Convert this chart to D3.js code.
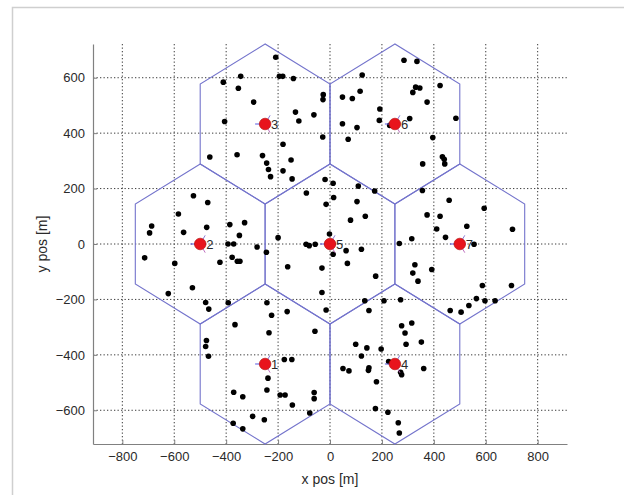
<!DOCTYPE html>
<html>
<head>
<meta charset="utf-8">
<script src="https://cdnjs.cloudflare.com/ajax/libs/d3/7.8.5/d3.min.js"></script>
<style>
  body { margin: 0; background: #fff; }
  svg { display: block; }
</style>
</head>
<body>
<div id="chart"></div>
<script>
// base station ids and positions [m]
var cellIds = [1, 2, 3, 4, 5, 6, 7];
var cellX = [-250, -500, -250, 250, 0, 250, 500];
var cellY = [-433, 0, 433, -433, 0, 433, 0];
var cellRadius = 288.7;

var xTicks = [-800, -600, -400, -200, 0, 200, 400, 600, 800];
var yTicks = [-600, -400, -200, 0, 200, 400, 600];

// user positions per cell [x, y]
var users1 = [[-243,-212],[-225,-257],[-366,-291],[-235,-320],[-165,-244],[-58,-315],[-476,-348],[-479,-370],[-468,-405],[-176,-417],[-147,-417],[-239,-484],[-371,-535],[-336,-551],[-243,-527],[-192,-545],[-173,-545],[-145,-581],[-61,-536],[-61,-558],[-78,-610],[-298,-622],[-253,-634],[-373,-647],[-336,-667]];
var users2 = [[-526,174],[-471,150],[-584,108],[-687,65],[-695,40],[-564,42],[-475,60],[-386,70],[-329,77],[-349,31],[-393,0],[-371,0],[-281,-11],[-714,-50],[-598,-70],[-424,-66],[-377,-48],[-357,-62],[-347,-62],[-623,-179],[-530,-158],[-479,-211],[-467,-235],[-392,-212]];
var users3 = [[-209,674],[-195,605],[-182,605],[-141,597],[-344,605],[-411,584],[-353,562],[-294,512],[-133,476],[-120,444],[-62,466],[-26,539],[-27,521],[-406,442],[-28,386],[-181,360],[-463,314],[-358,322],[-260,319],[-244,292],[-237,269],[-229,243],[-150,303],[-181,264],[-146,235]];
var users4 = [[134,-205],[150,-240],[208,-205],[272,-201],[315,-285],[276,-295],[289,-321],[293,-362],[352,-354],[99,-362],[142,-375],[121,-404],[197,-379],[226,-424],[272,-463],[276,-472],[361,-449],[50,-449],[73,-458],[150,-447],[148,-456],[179,-497],[175,-594],[223,-607],[263,-645],[267,-682]];
var users5 = [[-19,233],[12,219],[109,209],[172,191],[-91,184],[14,168],[-15,143],[104,153],[79,86],[136,100],[-200,23],[-92,-1],[-80,-6],[-57,-1],[-2,36],[12,-37],[62,-24],[121,-19],[67,-70],[-163,-82],[-31,-87],[176,-116],[-31,-175],[-15,-238],[-245,-30]];
var users6 = [[285,663],[335,659],[124,610],[330,566],[346,563],[424,572],[319,547],[116,551],[48,530],[86,525],[374,512],[192,487],[485,454],[190,446],[307,453],[230,428],[48,434],[104,420],[70,378],[396,384],[433,315],[440,306],[442,289],[357,289]];
var users7 = [[356,193],[459,158],[374,105],[424,100],[411,54],[594,129],[527,64],[445,24],[703,53],[315,19],[267,2],[555,-1],[327,-75],[319,-105],[339,-134],[392,-92],[587,-150],[699,-150],[564,-197],[597,-205],[636,-205],[535,-222],[463,-240],[505,-246]];

var W = 624, H = 495;
var LEFT = 93, RIGHT = 567, TOP = 44, BOTTOM = 444;
var HEX_COLOR = '#7474cc';
var GRID_COLOR = '#3a3a3a';
var TEXT_COLOR = '#2a2a2a';
var FONT = 'Arimo, "Liberation Sans", Arial, sans-serif';

var svg = d3.select('#chart').append('svg')
  .attr('width', W)
  .attr('height', H)
  .style('font-family', FONT);

// figure frame
svg.append('path')
  .attr('d', 'M12.5,495 L12.5,7.5 L624,7.5')
  .attr('fill', 'none')
  .attr('stroke', '#cfcfcf')
  .attr('stroke-width', 1.5);

var x = d3.scaleLinear().domain([-913, 913]).range([LEFT, RIGHT]);
var y = d3.scaleLinear().domain([-721.7, 721.7]).range([BOTTOM, TOP]);

// grid
svg.selectAll('.gx').data(xTicks).enter().append('line')
  .attr('x1', function(d) { return x(d); })
  .attr('x2', function(d) { return x(d); })
  .attr('y1', TOP)
  .attr('y2', BOTTOM)
  .attr('stroke', GRID_COLOR)
  .attr('stroke-width', 1)
  .attr('stroke-dasharray', '1.3,2.2');

svg.selectAll('.gy').data(yTicks).enter().append('line')
  .attr('x1', LEFT)
  .attr('x2', RIGHT)
  .attr('y1', function(d) { return y(d); })
  .attr('y2', function(d) { return y(d); })
  .attr('stroke', GRID_COLOR)
  .attr('stroke-width', 1)
  .attr('stroke-dasharray', '1.3,2.2');

// axes
var xAxis = d3.axisBottom(x).tickValues(xTicks).tickSize(-4).tickPadding(8).tickSizeOuter(0);
var yAxis = d3.axisLeft(y).tickValues(yTicks).tickSize(-4).tickPadding(8).tickSizeOuter(0);

var gx = svg.append('g').attr('transform', 'translate(0,' + BOTTOM + ')').call(xAxis);
var gy = svg.append('g').attr('transform', 'translate(' + LEFT + ',0)').call(yAxis);

[gx, gy].forEach(function(g) {
  g.select('.domain').attr('stroke', '#808080').attr('stroke-width', 1.2);
  g.selectAll('.tick line').attr('stroke', '#808080');
  g.selectAll('.tick text')
    .attr('fill', TEXT_COLOR)
    .style('font-size', '13px')
    .style('font-family', FONT);
});

svg.append('text')
  .attr('x', x(0))
  .attr('y', 484)
  .attr('text-anchor', 'middle')
  .attr('fill', TEXT_COLOR)
  .style('font-size', '14px')
  .text('x pos [m]');

svg.append('text')
  .attr('transform', 'translate(47,' + y(0) + ') rotate(-90)')
  .attr('text-anchor', 'middle')
  .attr('fill', TEXT_COLOR)
  .style('font-size', '14px')
  .text('y pos [m]');

// hexagonal cells
var hexPoints = function(cx, cy) {
  var pts = [];
  for (var k = 0; k < 6; k++) {
    var a = Math.PI / 2 + k * Math.PI / 3;
    pts.push([x(cx + cellRadius * Math.cos(a)), y(cy + cellRadius * Math.sin(a))]);
  }
  return pts;
};

var cells = cellIds.map(function(id, i) { return { id: id, x: cellX[i], y: cellY[i] }; });

svg.selectAll('.hex').data(cells).enter().append('polygon')
  .attr('points', function(d) { return hexPoints(d.x, d.y).join(' '); })
  .attr('fill', 'none')
  .attr('stroke', HEX_COLOR)
  .attr('stroke-width', 1.1);

// users
var users = [].concat(users1, users2, users3, users4, users5, users6, users7);

svg.selectAll('.user').data(users).enter().append('circle')
  .attr('cx', function(d) { return x(d[0]); })
  .attr('cy', function(d) { return y(d[1]); })
  .attr('r', 2.8)
  .attr('fill', '#000');

// base stations with sector lines
var sectorAngles = [180, 60, -60];
var sectorColors = ['#5a5ae0', '#8a7ad8', '#c070c0'];

cells.forEach(function(c) {
  var cx = x(c.x), cy = y(c.y);
  sectorAngles.forEach(function(a, k) {
    var r = a * Math.PI / 180;
    svg.append('line')
      .attr('x1', cx)
      .attr('y1', cy)
      .attr('x2', cx + 10 * Math.cos(r))
      .attr('y2', cy - 10 * Math.sin(r))
      .attr('stroke', sectorColors[k])
      .attr('stroke-width', 1);
  });
  svg.append('circle')
    .attr('cx', cx)
    .attr('cy', cy)
    .attr('r', 5.8)
    .attr('fill', '#e8141c')
    .attr('stroke', '#b00000')
    .attr('stroke-width', 0.6);
  svg.append('text')
    .attr('x', cx + 6)
    .attr('y', cy + 5)
    .attr('fill', TEXT_COLOR)
    .style('font-size', '13px')
    .text(c.id);
});
</script>
</body>
</html>
